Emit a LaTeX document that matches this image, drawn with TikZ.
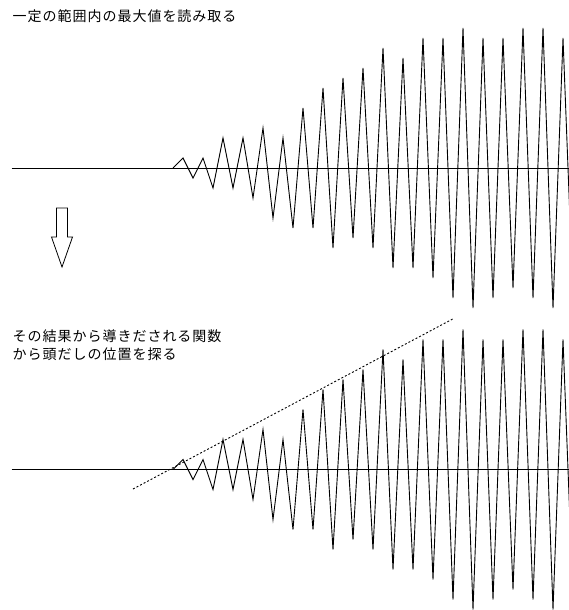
\documentclass[tikz,border=0pt]{standalone}
\usepackage{fontspec}
\newfontfamily\jpfont[LetterSpace=7]{Noto Sans CJK JP}
\tikzset{
    note/.style={font=\jpfont\fontsize{14pt}{18pt}\selectfont,
                 inner sep=0pt, align=left, anchor=north west},
    axis/.style={line width=1pt},
    wave/.style={line width=0.9pt, line join=miter},
    trend/.style={line width=0.9pt, dash pattern=on 2pt off 2pt},
    hollow/.style={draw, line width=0.8pt, line join=miter},
}

\begin{document}
\begin{tikzpicture}[x=1pt, y=-1pt]

    \useasboundingbox (0,0) rectangle (569,610);
    \clip (0,0) rectangle (569,610);

    \node[note] (readmax) at (12.5,9.3) {一定の範囲内の最大値を読み取る};
    \node[note] (findhead) at (12.5,330) {その結果から導きだされる関数\\から頭だしの位置を探る};

    % signal before and after
    \foreach \base in {168,469.5} {
        \draw[axis] (11.5,\base) -- (569,\base);
        \draw[wave] (173,\base) \foreach \a [count=\i] in {-1,1,-1,2,-3,2,-3,3,-4,5,-3,6,-6,6,-8,8,-9,7,-10,8,-12,10,-11,10,-13,11,-13,13,-14,14,-13,13,-13,12,-14,13,-14,14,-13,13} { -- ({173+10*\i},{\base+10*(\a)}) };
    }

    \draw[hollow] (56.5,208) -- (67.5,208) -- (67.5,237) -- (72.5,237)
        -- (62,267) -- (51.5,237) -- (56.5,237) -- cycle;

    \coordinate (tail) at (133,489);
    \coordinate (head) at (454,318.3);
    \draw[trend] (tail) -- (head);

\end{tikzpicture}
\end{document}
